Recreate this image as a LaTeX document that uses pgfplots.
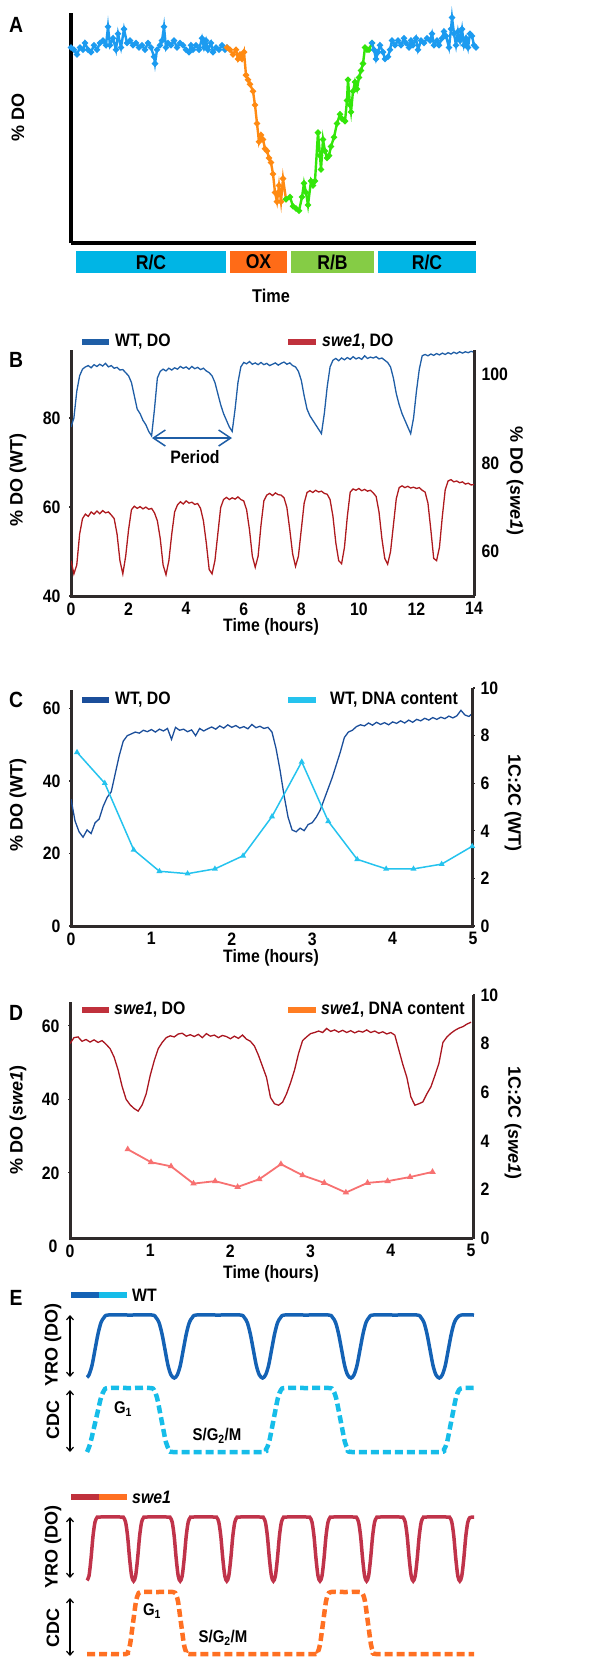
\documentclass[border=0pt]{standalone}
\usepackage{fontspec}
\setmainfont{Liberation Sans}[FakeStretch=0.88]
\newfontfamily\rotfont{Liberation Sans}
\usepackage{pgfplots}
\pgfplotsset{compat=1.18}
\usetikzlibrary{arrows.meta}

\definecolor{axgray}{HTML}{2F2A2A}
\definecolor{aBlue}{HTML}{1C9BF0}
\definecolor{aOrange}{HTML}{FF8A12}
\definecolor{aGreen}{HTML}{33E60A}
\definecolor{boxCyan}{HTML}{00B5E5}
\definecolor{boxOrange}{HTML}{FF6B17}
\definecolor{boxGreen}{HTML}{85CC45}
\definecolor{wtB}{HTML}{1F5EA6}
\definecolor{sweB}{HTML}{AE1A1E}
\definecolor{sweLeg}{HTML}{C0313C}
\definecolor{wtC}{HTML}{1B4E9A}
\definecolor{dnaC}{HTML}{25C3EE}
\definecolor{sweD}{HTML}{A91620}
\definecolor{dnaD}{HTML}{F77171}
\definecolor{dnaDleg}{HTML}{FF7D22}
\definecolor{eWT}{HTML}{1462B5}
\definecolor{eWTc}{HTML}{16BDE9}
\definecolor{eSwe}{HTML}{C0334A}
\definecolor{eSwec}{HTML}{FF7022}

\newcommand\tfont{\fontsize{18}{18}\selectfont\bfseries}
\newcommand\rfont{\rotfont\fontsize{18}{18}\selectfont\bfseries}
\newcommand\pfont{\fontsize{22}{22}\selectfont\bfseries}
\newcommand\gfont{\fontsize{17}{17}\selectfont\bfseries}

\pgfplotsset{
  dax/.style={scale only axis, anchor=south west, at={(0pt,0pt)},
    axis line style={line width=3pt, draw=axgray},
    tick style={line width=1.2pt, draw=axgray},
    tick align=outside, major tick length=2pt,
    ticklabel style={font=\tfont},
    /pgf/number format/assume math mode=true},
  lax/.style={dax, axis x line*=bottom, axis y line*=left,
    yticklabel style={xshift=-5pt}, xticklabel style={yshift=-1pt}},
  rax/.style={dax, axis x line=none, axis y line*=right, xtick=\empty,
    yticklabel style={xshift=2pt}},
  eax/.style={scale only axis, anchor=south west, at={(0pt,0pt)}, hide axis, clip=false,
    width=589pt, xmin=0, xmax=589, ymin=0, ymax=1},
}
\tikzset{px/.style={x=1pt,y=1pt}}

\begin{document}
\begin{tikzpicture}

% ---------------- A ----------------
\begin{scope}[px]
\node[font=\pfont] at (16,-25) {A};
\node[font=\rfont, rotate=90] at (18,-117) {\% DO};
\fill[boxCyan] (76,-251) rectangle (226,-273);
\fill[boxOrange] (230,-251) rectangle (287,-273);
\fill[boxGreen] (291,-251) rectangle (374,-273);
\fill[boxCyan] (378,-251) rectangle (476,-273);
\begin{scope}[every node/.style={font=\fontsize{20}{20}\selectfont\bfseries}]
\node at (151,-262) {R/C};
\node at (258.5,-262) {OX};
\node at (332.5,-262) {R/B};
\node at (427,-262) {R/C};
\end{scope}
\node[font=\fontsize{18.5}{18.5}\selectfont\bfseries] at (271,-296) {Time};
\end{scope}
\begin{scope}[shift={(71pt,-243pt)}]
\begin{axis}[scale only axis, anchor=south west, at={(0pt,0pt)},
  width=405pt, height=230pt, xmin=71, xmax=476, ymin=0, ymax=100,
  axis x line*=bottom, axis y line*=left,
  axis line style={line width=3.5pt, black},
  xtick=\empty, ytick=\empty, clip=false]
\addplot[aBlue, line width=2.4pt, mark=*, mark size=1.7pt] coordinates {
(71,85) (74,84) (77,82) (80,85) (83,84) (85,87) (88,84) (91,83) (94,86) (97,84)
(100,87) (103,88) (106,86) (108,94) (110,86) (113,89) (116,84) (118,91) (121,85)
(124,93) (127,87) (130,88) (133,86) (136,87) (139,85) (142,86) (145,84) (148,87)
(151,85) (154,81) (155,78) (157,84) (160,86) (162,88) (164,94) (166,85) (168,87)
(171,86) (174,88) (177,85) (180,87) (183,86) (186,84) (189,83) (191,86) (193,84)
(196,86) (199,84) (202,89) (204,85) (206,88) (208,84) (211,87) (213,83) (216,85)
(219,84) (222,86) (225,84) (227,85)};
\addplot[aOrange, line width=2.4pt, mark=*, mark size=1.7pt] coordinates {
(227,85) (230,84) (233,82) (236,84) (238,80) (240,82) (242,80) (244,83) (246,73)
(248,71) (250,69) (253,66) (255,60) (257,52) (259,44) (261,47) (263,45) (265,41)
(267,40) (269,37) (271,35) (273,30) (275,22) (277,18) (279,25) (281,18) (283,28)
(286,19)};
\addplot[aGreen, line width=2.4pt, mark=*, mark size=1.7pt] coordinates {
(286,19) (290,20) (293,16) (296,15) (299,14) (302,20) (304,26) (306,22) (308,16.5)
(311,27) (313,25) (315,27) (318,48) (320,38) (321,32) (323,45) (325,40) (327,37)
(329,38) (331,42) (334,46) (337,52) (340,56) (342,54) (345,53) (347,62) (348,71)
(350,60) (351,57) (353,66) (355,70) (357,67) (359,72) (361,75) (363,78) (365,85)
(367,84) (369,84) (372,87)};
\addplot[aBlue, line width=2.4pt, mark=*, mark size=1.7pt] coordinates {
(372,87) (374,84) (376,80) (378,83) (380,86) (383,83) (385,80) (388,81) (390,84)
(392,88) (395,86) (398,88) (401,86) (404,89) (406,87) (409,85) (411,88) (413,86)
(416,89) (418,84) (421,88) (424,87) (427,89) (430,88) (432,91) (434,86) (437,88)
(439,86) (442,89) (444,92) (446,90) (449,85) (451,93) (452,98) (454,91) (456,86)
(458,92) (460,88) (462,93) (464,86) (466,89) (468,85) (470,91) (472,90) (474,86)
(476,85)};
\end{axis}
\end{scope}

% ---------------- B ----------------
\begin{scope}[px]
\node[font=\pfont] at (16,-360) {B};
\node[font=\rfont, rotate=90] at (18,-480) {\% DO (WT)};
\node[font=\rfont, rotate=-90] at (515,-481) {\% DO (\textit{swe1})};
\draw[wtB, line width=6pt] (82,-342) -- (109,-342);
\node[anchor=west, inner sep=0, font=\tfont] at (115,-342) {WT, DO};
\draw[sweLeg, line width=6pt] (288,-342) -- (316,-342);
\node[anchor=west, inner sep=0, font=\tfont] at (322,-342) {\textit{swe1}, DO};
\node[font=\tfont] at (195,-457) {Period};
\node[font=\tfont] at (271,-627) {Time (hours)};
\end{scope}
\begin{scope}[shift={(71pt,-596pt)}]
\begin{axis}[lax, width=403pt, height=246pt,
  xmin=0, xmax=14, ymin=40, ymax=95.3, xtick={0,2,...,14}, ytick={40,60,80}]
\addplot[wtB, line width=1.3pt] coordinates {
(0.0,78) (0.1,80) (0.2,86) (0.3,89.5) (0.4,91) (0.5,91.5) (0.6,91.8) (0.7,91.3)
(0.8,92) (0.9,91.6) (1.0,92.1) (1.1,91.7) (1.2,92.3) (1.3,91.5) (1.4,91.8)
(1.5,91.2) (1.6,91.4) (1.7,90.8) (1.8,90.9) (1.9,90.2) (2.0,89.5) (2.1,88)
(2.2,85) (2.3,82) (2.4,81) (2.5,79.5) (2.6,78.5) (2.7,77) (2.8,76) (2.9,82)
(3.0,89) (3.1,90.5) (3.2,91) (3.3,90.6) (3.4,91.2) (3.5,90.8) (3.6,91.3) (3.7,91)
(3.8,91.6) (3.9,91.2) (4.0,91.5) (4.1,91) (4.2,91.6) (4.3,91.1) (4.4,91.4)
(4.5,90.9) (4.6,91.2) (4.7,90.6) (4.8,90.2) (4.9,89.5) (5.0,88) (5.1,85.5)
(5.2,83) (5.3,81) (5.4,79.5) (5.5,78) (5.6,77) (5.7,82) (5.8,88) (5.9,91.5)
(6.0,92.5) (6.1,92.2) (6.2,92.7) (6.3,92.1) (6.4,92.4) (6.5,92) (6.6,92.5) (6.7,92)
(6.8,92.3) (6.9,91.8) (7.0,92.1) (7.1,92.4) (7.2,91.9) (7.3,92.3) (7.4,92.6)
(7.5,92.1) (7.6,92.4) (7.7,91.8) (7.8,91.5) (7.9,90.5) (8.0,88.5) (8.1,85) (8.2,82)
(8.3,80.5) (8.4,79.5) (8.5,78.5) (8.6,77.5) (8.7,76.5) (8.8,81) (8.9,87) (9.0,91.5)
(9.1,93) (9.2,93.4) (9.3,92.9) (9.4,93.5) (9.5,93.1) (9.6,93.6) (9.7,93.2)
(9.8,93.8) (9.9,93.3) (10.0,93.6) (10.1,93.2) (10.2,94) (10.3,93.4) (10.4,93.7)
(10.5,93.5) (10.6,93.8) (10.7,93.3) (10.8,93.5) (10.9,93) (11.0,92.5) (11.1,91.5)
(11.2,89) (11.3,85.5) (11.4,83) (11.5,81) (11.6,79.5) (11.7,78) (11.8,76.5)
(11.9,80) (12.0,86) (12.1,91) (12.2,94) (12.3,94.3) (12.4,94) (12.5,94.4)
(12.6,94.1) (12.7,94.5) (12.8,94.2) (12.9,94.6) (13.0,94.3) (13.1,94.7) (13.2,94.4)
(13.3,94.8) (13.4,94.5) (13.5,94.9) (13.6,94.6) (13.7,94.9) (13.8,94.7) (13.9,95)
(14.0,94.8)};
\end{axis}
\begin{axis}[rax, width=403pt, height=246pt,
  xmin=0, xmax=14, ymin=50, ymax=105.6, ytick={60,80,100}]
\addplot[sweB, line width=1.3pt] coordinates {
(0.0,58) (0.1,55) (0.2,57) (0.3,64) (0.4,67.5) (0.5,68.5) (0.6,68) (0.7,69)
(0.8,68.5) (0.9,69.2) (1.0,68.6) (1.1,69.3) (1.2,68.8) (1.3,69) (1.4,68.3)
(1.5,67.5) (1.6,64) (1.7,58) (1.8,55) (1.9,59) (2.0,65) (2.1,69.5)
(2.2,70.3) (2.3,69.8) (2.4,70.2) (2.5,69.7) (2.6,70.1) (2.7,69.6) (2.8,69.8) (2.9,68.8)
(3.0,67) (3.1,63) (3.2,57) (3.3,54.8) (3.4,58) (3.5,64) (3.6,69) (3.7,70.6)
(3.8,71.3) (3.9,70.8) (4.0,71.5) (4.1,71) (4.2,71.2) (4.3,70.7) (4.4,70.9) (4.5,69.8)
(4.6,67) (4.7,62) (4.8,56) (4.9,55) (5.0,58) (5.1,64) (5.2,70) (5.3,71.8)
(5.4,72.3) (5.5,71.8) (5.6,72.2) (5.7,71.9) (5.8,72.4) (5.9,71.8) (6.0,71.5)
(6.1,69.5) (6.2,65) (6.3,59) (6.4,56.5) (6.5,59) (6.6,66) (6.7,71.5) (6.8,72.8)
(6.9,73.2) (7.0,72.7) (7.1,73.3) (7.2,72.9) (7.3,72.8) (7.4,72.2)
(7.5,70) (7.6,65) (7.7,59.5) (7.8,56.7) (7.9,59) (8.0,65) (8.1,71) (8.2,73.4)
(8.3,73.8) (8.4,73.4) (8.5,73.9) (8.6,73.5) (8.7,73.7) (8.8,73.2) (8.9,73) (9.0,71.8)
(9.1,68) (9.2,62) (9.3,58) (9.4,57.3) (9.5,61) (9.6,68) (9.7,73.5)
(9.8,74.2) (9.9,73.9) (10.0,74.3) (10.1,73.8) (10.2,74.1) (10.3,73.7) (10.4,73.9)
(10.5,73.3) (10.6,72.5) (10.7,69) (10.8,63) (10.9,58.5) (11.0,57.2) (11.1,60)
(11.2,66) (11.3,72) (11.4,74.5) (11.5,74.9) (11.6,74.5) (11.7,74.8) (11.8,74.4)
(11.9,74.6) (12.0,74.3) (12.1,74.5) (12.2,73.9) (12.3,73.5) (12.4,71) (12.5,65)
(12.6,58.5) (12.7,58) (12.8,61) (12.9,68) (13.0,74) (13.1,76) (13.2,76.3) (13.3,75.8)
(13.4,76) (13.5,75.6) (13.6,75.8) (13.7,75.3) (13.8,75.5) (13.9,75.1) (14.0,75.2)};
\end{axis}
\end{scope}
\begin{scope}[px]
\draw[wtB, line width=1.5pt, {Straight Barb[length=12pt,width=16pt]}-{Straight Barb[length=12pt,width=16pt]}] (152,-438) -- (232,-438);
\end{scope}

% ---------------- C ----------------
\begin{scope}[px]
\node[font=\pfont] at (16,-700) {C};
\node[font=\rfont, rotate=90] at (18,-805) {\% DO (WT)};
\node[font=\rfont, rotate=-90] at (513,-803) {1C:2C (WT)};
\draw[wtC, line width=6pt] (82,-700) -- (109,-700);
\node[anchor=west, inner sep=0, font=\tfont] at (115,-700) {WT, DO};
\draw[dnaC, line width=6pt] (288,-700) -- (316,-700);
\node[anchor=west, inner sep=0, font=\tfont] at (330,-700) {WT, DNA content};
\node[font=\tfont] at (271,-958) {Time (hours)};
\end{scope}
\begin{scope}[shift={(71pt,-926pt)}]
\begin{axis}[lax, width=402pt, height=236pt,
  xmin=0, xmax=5, ymin=0, ymax=65.1, xtick={0,1,...,5}, ytick={0,20,40,60}]
\addplot[wtC, line width=1.3pt] coordinates {
(0.00,35) (0.05,29) (0.10,26) (0.15,24.5) (0.20,26.5) (0.25,25.5) (0.30,28.5)
(0.35,29.5) (0.40,33) (0.45,35.5) (0.50,37) (0.55,42) (0.60,47) (0.65,51)
(0.70,52.5) (0.75,53) (0.80,53.5) (0.85,53.2) (0.90,54) (0.95,53.6) (1.00,54.2)
(1.05,53.5) (1.10,54.3) (1.15,53.8) (1.20,54.5) (1.25,51.5) (1.30,54.8) (1.35,54)
(1.40,54.3) (1.45,53.6) (1.50,54.1) (1.55,52.5) (1.60,54.5) (1.65,53.8) (1.70,54.4)
(1.75,54.9) (1.80,54.3) (1.85,55.2) (1.90,54.6) (1.95,55.5) (2.00,54.8) (2.05,55.3)
(2.10,54.6) (2.15,55) (2.20,54.4) (2.25,55.6) (2.30,54.7) (2.35,55.1) (2.40,54.5)
(2.45,54.8) (2.50,53.5) (2.55,49) (2.60,43) (2.65,36) (2.70,30) (2.75,26.5)
(2.80,26) (2.85,27) (2.90,26.3) (2.95,28) (3.00,28.5) (3.05,30) (3.10,32) (3.15,35)
(3.20,38) (3.25,41) (3.30,44.5) (3.35,48) (3.40,52) (3.45,53.5) (3.50,54) (3.55,55)
(3.60,55.5) (3.65,55.2) (3.70,56) (3.75,55.4) (3.80,56.2) (3.85,55.6) (3.90,56.1)
(3.95,55.5) (4.00,56.3) (4.05,55.9) (4.10,56.6) (4.15,56) (4.20,56.8) (4.25,56.2)
(4.30,57) (4.35,56.6) (4.40,57.3) (4.45,56.8) (4.50,57.5) (4.55,57) (4.60,57.6)
(4.65,57.2) (4.70,57.9) (4.75,57.4) (4.80,58) (4.85,59.5) (4.90,58.2) (4.95,57.8)
(5.00,58.8)};
\end{axis}
\begin{axis}[rax, width=402pt, height=238pt,
  xmin=0, xmax=5, ymin=0, ymax=10, ytick={0,2,...,10}]
\addplot[dnaC, line width=1.5pt, mark=triangle*, mark size=2pt] coordinates {
(0.075,7.3) (0.42,6.0) (0.78,3.2) (1.10,2.3) (1.45,2.2) (1.79,2.4) (2.14,2.95)
(2.50,4.6) (2.87,6.9) (3.20,4.4) (3.56,2.8) (3.92,2.4) (4.26,2.4) (4.61,2.6)
(4.99,3.35)};
\end{axis}
\end{scope}

% ---------------- D ----------------
\begin{scope}[px]
\node[font=\pfont] at (16,-1013) {D};
\node[font=\rfont, rotate=90] at (18,-1120) {\% DO (\textit{swe1})};
\node[font=\rfont, rotate=-90] at (513,-1123) {1C:2C (\textit{swe1})};
\draw[sweLeg, line width=6pt] (82,-1010) -- (109,-1010);
\node[anchor=west, inner sep=0, font=\tfont] at (114,-1010) {\textit{swe1}, DO};
\draw[dnaDleg, line width=6pt] (288,-1010) -- (316,-1010);
\node[anchor=west, inner sep=0, font=\tfont] at (321,-1010) {\textit{swe1}, DNA content};
\node[anchor=east, font=\tfont] at (61,-1246) {0};
\node[font=\tfont] at (271,-1274) {Time (hours)};
\end{scope}
\begin{scope}[shift={(70pt,-1238pt)}]
\begin{axis}[lax, width=403pt, height=236pt,
  xmin=0, xmax=5.025, ymin=2.25, ymax=66.5, xtick={0,1,...,5}, ytick={20,40,60}]
\addplot[sweD, line width=1.3pt] coordinates {
(0.00,55.2) (0.05,56.8) (0.10,57) (0.15,55.8) (0.20,56.3) (0.25,55.6) (0.30,56.2)
(0.35,55.5) (0.40,56) (0.45,55) (0.50,53.8) (0.55,51.5) (0.60,48) (0.65,43.5)
(0.70,40) (0.75,38.5) (0.80,37.5) (0.85,36.8) (0.90,38.5) (0.95,41.5) (1.00,46.5)
(1.05,50.5) (1.10,53.8) (1.15,55.5) (1.20,56.8) (1.25,57.3) (1.30,57) (1.35,57.8)
(1.40,58) (1.45,57.2) (1.50,57.6) (1.55,57.1) (1.60,57.7) (1.65,56.8) (1.70,57.9)
(1.75,57.2) (1.80,57.5) (1.85,56.8) (1.90,57.4) (1.95,57.1) (2.00,56.5) (2.05,57.2)
(2.10,56.6) (2.15,57.5) (2.20,56.4) (2.25,55.8) (2.30,54.5) (2.35,52) (2.40,49)
(2.45,46) (2.50,40.5) (2.55,38.8) (2.60,38.4) (2.65,39.2) (2.70,41.5) (2.75,44.5)
(2.80,48) (2.85,52.5) (2.90,56) (2.95,57) (3.00,57.9) (3.05,58.2) (3.10,58.6)
(3.15,58.2) (3.20,59.3) (3.25,58.5) (3.30,58.9) (3.35,58.3) (3.40,58.8) (3.45,58.2)
(3.50,58.7) (3.55,58.1) (3.60,58.6) (3.65,58.3) (3.70,58.9) (3.75,58.2) (3.80,58.6)
(3.85,58) (3.90,58.4) (3.95,57.8) (4.00,58.2) (4.05,57.5) (4.10,53.5) (4.15,49.5)
(4.20,46) (4.25,40.7) (4.30,38.4) (4.35,38.8) (4.40,39.3) (4.45,41.5) (4.50,43.4)
(4.55,46.5) (4.60,49.8) (4.65,55.5) (4.70,57) (4.75,58) (4.80,58.8) (4.85,59.4)
(4.90,59.8) (4.95,60.5) (5.00,61)};
\end{axis}
\begin{axis}[rax, width=403pt, height=243pt,
  xmin=0, xmax=5.025, ymin=0, ymax=10, ytick={0,2,...,10}]
\addplot[dnaD, line width=1.8pt, mark=triangle*, mark size=2pt] coordinates {
(0.72,3.65) (1.01,3.12) (1.26,2.95) (1.54,2.24) (1.81,2.34) (2.09,2.1) (2.36,2.42)
(2.63,3.04) (2.90,2.58) (3.17,2.27) (3.44,1.87) (3.71,2.27) (3.96,2.34) (4.24,2.51)
(4.52,2.72)};
\end{axis}
\end{scope}

% ---------------- E ----------------
\begin{scope}[px]
\node[font=\pfont] at (16,-1298) {E};
\draw[eWT, line width=6pt] (71,-1295) -- (99,-1295);
\draw[eWTc, line width=6pt] (99,-1295) -- (127,-1295);
\node[anchor=west, inner sep=0, font=\tfont] at (132,-1295) {WT};
\draw[sweLeg, line width=6pt] (71,-1497) -- (99,-1497);
\draw[eSwec, line width=6pt] (99,-1497) -- (127,-1497);
\node[anchor=west, inner sep=0, font=\tfont] at (132,-1497) {\textit{swe1}};
\node[font=\rfont, rotate=90] at (53,-1345) {YRO (DO)};
\node[font=\rfont, rotate=90] at (53,-1420) {CDC};
\node[font=\rfont, rotate=90] at (53,-1547) {YRO (DO)};
\node[font=\rfont, rotate=90] at (53,-1628) {CDC};
\begin{scope}[line width=1.2pt, {Straight Barb[length=4pt,width=7pt]}-{Straight Barb[length=4pt,width=7pt]}]
\draw (70,-1315) -- (70,-1377);
\draw (70,-1390) -- (70,-1452);
\draw (70,-1517) -- (70,-1578);
\draw (70,-1598) -- (70,-1656);
\end{scope}
\node[font=\gfont] at (123,-1409) {G\textsubscript{1}};
\node[font=\gfont] at (217,-1436) {S/G\textsubscript{2}/M};
\node[font=\gfont] at (152,-1611) {G\textsubscript{1}};
\node[font=\gfont] at (223,-1638) {S/G\textsubscript{2}/M};
\path (0,0) rectangle (589,-1658);
\end{scope}
\begin{scope}[shift={(0pt,-1378pt)}]
\begin{axis}[eax, height=63pt]
\addplot[eWT, line width=3.5pt, smooth] coordinates {
(87,0.01) (89,.05) (92,.2) (95,.45) (98,.7) (101,.88) (104,.96) (108,1) (130,1) (152,1)
(156,.96) (159,.88) (162,.7) (165,.45) (168,.2) (171,.05) (174.3,0) (177.3,.05)
(180.3,.2) (183.3,.45) (186.3,.7) (189.3,.88) (192.3,.96) (196.3,1) (218,1) (240.3,1)
(244.3,.96) (247.3,.88) (250.3,.7) (253.3,.45) (256.3,.2) (259.3,.05) (262.6,0)
(265.6,.05) (268.6,.2) (271.6,.45) (274.6,.7) (277.6,.88) (280.6,.96) (284.6,1)
(306,1) (328.6,1) (332.6,.96) (335.6,.88) (338.6,.7) (341.6,.45) (344.6,.2)
(347.6,.05) (351,0) (354,.05) (357,.2) (360,.45) (363,.7) (366,.88) (369,.96) (373,1)
(395,1) (417,1) (421,.96) (424,.88) (427,.7) (430,.45) (433,.2) (436,.05) (439.3,0)
(442.3,.05) (445.3,.2) (448.3,.45) (451.3,.7) (454.3,.88) (457.3,.96) (461.3,1)
(474,1)};
\end{axis}
\end{scope}
\begin{scope}[shift={(0pt,-1452pt)}]
\begin{axis}[eax, height=64pt]
\addplot[eWTc, line width=4.5pt, smooth, dash pattern=on 8pt off 4pt] coordinates {
(87,0) (90,0.12) (94,0.38) (98,0.65) (101,0.85) (104,0.96) (108,1) (129,1) (150,1)
(154,0.97) (157,0.85) (160,0.62) (163,0.38) (166,0.15) (169,0.04) (173,0) (217,0)
(262,0) (266,0.04) (269,0.15) (272,0.38) (275,0.62) (278,0.85) (281,0.97) (285,1)
(307,1) (329,1) (333,0.97) (336,0.85) (339,0.62) (342,0.38) (345,0.15) (348,0.04)
(352,0) (396,0) (440,0) (444,0.04) (447,0.15) (450,0.38) (453,0.62) (456,0.85)
(459,0.97) (463,1) (474,1)};
\end{axis}
\end{scope}
\begin{scope}[shift={(0pt,-1581pt)}]
\begin{axis}[eax, height=64pt]
\addplot[eSwe, line width=3.5pt, smooth] coordinates {
(87,0.01) (89,.08) (91,.35) (93,.7) (95,.92) (97,.99) (99.5,1) (121,1) (123.6,.99)
(125.6,.92) (127.6,.7) (129.6,.35) (131.6,.08) (133.6,0) (135.6,.08) (137.6,.35)
(139.6,.7) (141.6,.92) (143.6,.99) (146.1,1) (167.6,1) (170.2,.99) (172.2,.92)
(174.2,.7) (176.2,.35) (178.2,.08) (180.2,0) (182.2,.08) (184.2,.35) (186.2,.7)
(188.2,.92) (190.2,.99) (192.7,1) (214.2,1) (216.8,.99) (218.8,.92) (220.8,.7)
(222.8,.35) (224.8,.08) (226.8,0) (228.8,.08) (230.8,.35) (232.8,.7) (234.8,.92)
(236.8,.99) (239.3,1) (260.8,1) (263.4,.99) (265.4,.92) (267.4,.7) (269.4,.35)
(271.4,.08) (273.4,0) (275.4,.08) (277.4,.35) (279.4,.7) (281.4,.92) (283.4,.99)
(285.9,1) (307.4,1) (310,.99) (312,.92) (314,.7) (316,.35) (318,.08) (320,0)
(322,.08) (324,.35) (326,.7) (328,.92) (330,.99) (332.5,1) (354,1) (356.6,.99)
(358.6,.92) (360.6,.7) (362.6,.35) (364.6,.08) (366.6,0) (368.6,.08) (370.6,.35)
(372.6,.7) (374.6,.92) (376.6,.99) (379.1,1) (400.6,1) (403.2,.99) (405.2,.92)
(407.2,.7) (409.2,.35) (411.2,.08) (413.2,0) (415.2,.08) (417.2,.35) (419.2,.7)
(421.2,.92) (423.2,.99) (425.7,1) (447.2,1) (449.8,.99) (451.8,.92) (453.8,.7)
(455.8,.35) (457.8,.08) (459.8,0) (461.8,.08) (463.8,.35) (465.8,.7) (467.8,.92)
(469.8,.99) (472.3,1) (474,1)};
\end{axis}
\end{scope}
\begin{scope}[shift={(0pt,-1654pt)}]
\begin{axis}[eax, height=62pt]
\addplot[eSwec, line width=4.5pt, smooth, dash pattern=on 8pt off 4pt] coordinates {
(87,0) (106,0) (126,0) (128,.04) (130,.15) (132,.38) (134,.62) (136,.85) (138,.96)
(141,1) (157,1) (173,1) (176,.96) (178,.85) (180,.62) (182,.38) (184,.15) (186,.04)
(189,0) (230,0) (273,0) (316,0) (318,.04) (320,.15) (322,.38) (324,.62) (326,.85)
(328,.96) (331,1) (345,1) (360,1) (363,.96) (365,.85) (367,.62) (369,.38) (371,.15)
(373,.04) (376,0) (410,0) (442,0) (474,0)};
\end{axis}
\end{scope}
\end{tikzpicture}
\end{document}
